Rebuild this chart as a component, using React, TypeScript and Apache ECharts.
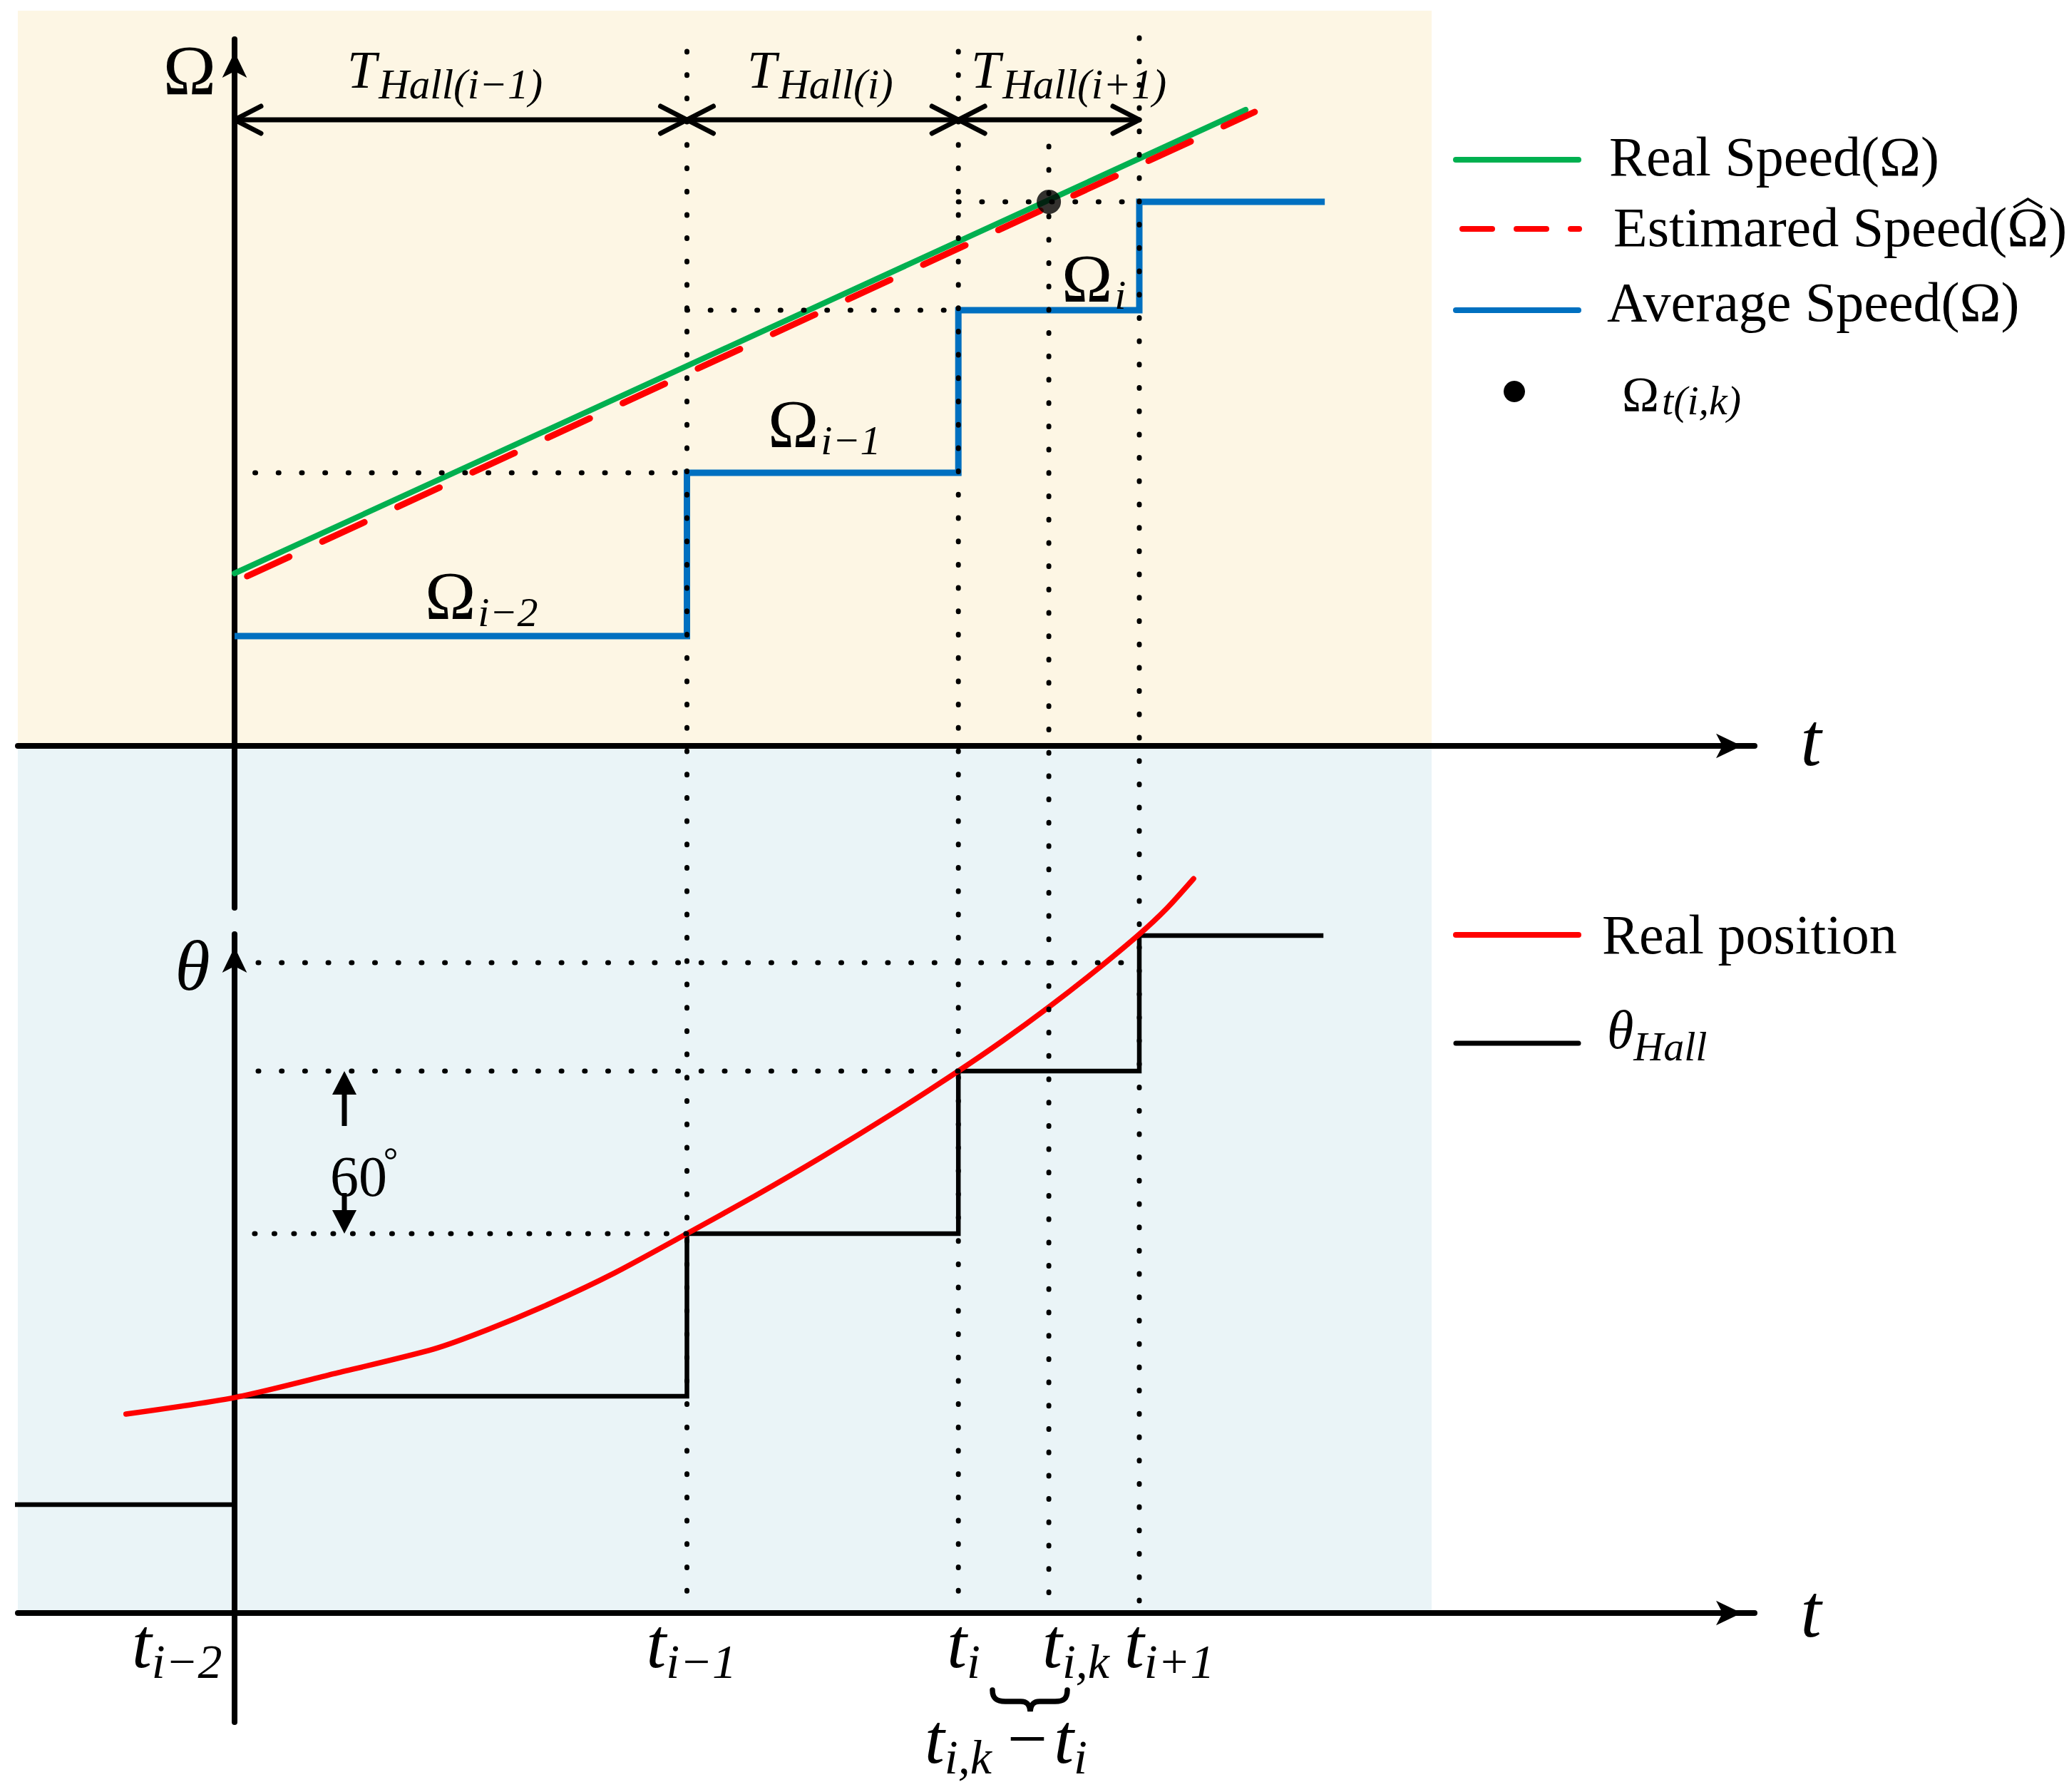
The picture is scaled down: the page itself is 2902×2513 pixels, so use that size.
import React, { useEffect, useRef } from 'react';
import * as echarts from 'echarts';

const FONT = '"Liberation Serif", "Times New Roman", Times, serif';

// ---------------- data (time in abstract units, speed / angle in chart units) ----------------
const tickT = [0, 10, 16, 18, 20]; // t_{i-2}, t_{i-1}, t_i, t_{i,k}, t_{i+1}
const tickSub = ['i−2', 'i−1', 'i', 'i,k', 'i+1'];
const hallT = [0, 10, 16, 20];
const hallSub = ['Hall(i−1)', 'Hall(i)', 'Hall(i+1)'];
const hallArrowLevel = 87.8;

const avgT = [0, 10, 16, 20, 24.1];
const avgSpeed = [15.4, 38.3, 61.1, 76.3, 76.3];
const avgSub = ['i−2', 'i−1', 'i'];

const realT = [0, 22.35];
const realSpeed = [24.2, 89.2];
const estT = [0.28, 22.55];
const estSpeed = [23.8, 88.9];
const sampleT = [18];
const sampleSpeed = [76.3];

const speedGuideLevel = [38.3, 61.1, 76.3];
const speedGuideFrom = [0.45, 10, 16];
const speedGuideTo = [10, 16, 20];

const hallAngleT = [-5, 0, 10, 16, 20, 24.07];
const hallAngle = [40, 80, 140, 200, 250, 250];
const posT = [-2.4, 0, 2.2, 4.4, 5.6, 7.0, 8.4, 10, 11.5, 13, 14.6, 16, 17, 18, 19, 20, 20.6, 21.2];
const posAngle = [73.4, 79.5, 88.3, 97.4, 104.6, 114.4, 125.5, 140, 153.9, 168.5, 184.9, 200, 211.4, 223.6, 236.6, 250.5, 259.9, 271];

const angleGuideLevel = [140, 200, 240];
const angleGuideFrom = [0.44, 0.52, 0.52];
const angleGuideTo = [10, 16, 20];

const guideT = [10, 16, 18, 20];

// ---------------- layout (pixels) ----------------
const W = 2902, H = 2513;
const AX0 = 329, TPX = 63.45, LEFT = 25, ARROW_END = 2461;
const TOP_AXIS_Y = 1046, TOP_GRID_TOP = 55, TOP_GRID_BOTTOM = 1273, WPX = 10;
const BOT_AXIS_Y = 2262, BOT_GRID_TOP = 1310, BOT_GRID_BOTTOM = 2415, DEGPX = 3.8;
const BG_RIGHT = 2008, BG_TOP = 15;
const guideTopPx = [72, 72, 205, 53];
const tickLabelDx = [-144, -57, -16, -9, -21];

const CREAM = '#FDF6E4';
const ICE = '#EAF4F7';
const GREEN = '#00B050';
const RED = '#FF0000';
const BLUE = '#0070C0';

const xMin = (LEFT - AX0) / TPX;
const xMax = (ARROW_END - AX0) / TPX;
const topMin = -(TOP_GRID_BOTTOM - TOP_AXIS_Y) / WPX;
const topMax = (TOP_AXIS_Y - TOP_GRID_TOP) / WPX;
const botMin = -(BOT_GRID_BOTTOM - BOT_AXIS_Y) / DEGPX;
const botMax = (BOT_AXIS_Y - BOT_GRID_TOP) / DEGPX;
const guideBottomVal = (TOP_AXIS_Y - BOT_AXIS_Y) / WPX;

const zip = (a: number[], b: number[]) => a.map((v, i) => [v, b[i]]);

const axisLine = {
  show: true,
  onZero: true,
  symbol: ['none', 'arrow'],
  symbolSize: [26, 36],
  symbolOffset: [0, -18],
  lineStyle: { color: '#000', width: 8 },
};
const hidden = { axisTick: { show: false }, axisLabel: { show: false }, splitLine: { show: false } };

export default function App() {
  const ref = useRef<HTMLDivElement>(null);
  useEffect(() => {
    const chart = echarts.init(ref.current!, null, { renderer: 'svg' });
    const dotted = (gap = 31.7) => ({ color: '#000', width: 7, type: [1, gap], cap: 'round' });

    const series: any[] = [
      {
        name: 'Real Speed', type: 'line', xAxisIndex: 0, yAxisIndex: 0, data: zip(realT, realSpeed),
        symbol: 'none', lineStyle: { color: GREEN, width: 8, cap: 'round' }, z: 3,
      },
      {
        name: 'Estimated Speed', type: 'line', xAxisIndex: 0, yAxisIndex: 0, data: zip(estT, estSpeed),
        symbol: 'none', lineStyle: { color: RED, width: 9, type: [65, 51], cap: 'round' }, z: 4,
      },
      {
        name: 'Average Speed', type: 'line', step: 'end', xAxisIndex: 0, yAxisIndex: 0, data: zip(avgT, avgSpeed),
        symbol: 'none', lineStyle: { color: BLUE, width: 9, join: 'miter' }, z: 3,
      },
      {
        name: 'Omega t(i,k)', type: 'scatter', xAxisIndex: 0, yAxisIndex: 0, data: zip(sampleT, sampleSpeed),
        symbol: 'circle', symbolSize: [34, 34], itemStyle: { color: '#000' }, z: 7,
      },
      {
        name: 'theta Hall', type: 'line', step: 'end', xAxisIndex: 1, yAxisIndex: 1, data: zip(hallAngleT, hallAngle),
        symbol: 'none', clip: false, lineStyle: { color: '#000', width: 6.5, join: 'miter' }, z: 3,
      },
      {
        name: 'Real position', type: 'line', smooth: 0.25, xAxisIndex: 1, yAxisIndex: 1, data: zip(posT, posAngle),
        symbol: 'none', clip: false, lineStyle: { color: RED, width: 7.5, cap: 'round' }, z: 4,
      },
      {
        name: 'T Hall', type: 'custom', xAxisIndex: 0, yAxisIndex: 0, clip: false, z: 6,
        data: hallT.slice(0, -1).map((t, i) => [t, hallT[i + 1], hallArrowLevel]),
        encode: { x: [0, 1], y: 2 },
        renderItem: (_p: any, api: any) => {
          const a = api.coord([api.value(0), api.value(2)]);
          const b = api.coord([api.value(1), api.value(2)]);
          const st = { stroke: '#000', lineWidth: 7, lineCap: 'round', lineJoin: 'round', fill: 'none' };
          return {
            type: 'group',
            children: [
              { type: 'line', shape: { x1: a[0], y1: a[1], x2: b[0], y2: b[1] }, style: st },
              { type: 'polyline', shape: { points: [[a[0] + 37, a[1] - 19], [a[0], a[1]], [a[0] + 37, a[1] + 19]] }, style: st },
              { type: 'polyline', shape: { points: [[b[0] - 37, b[1] - 19], [b[0], b[1]], [b[0] - 37, b[1] + 19]] }, style: st },
            ],
          };
        },
      },
    ];
    guideT.forEach((t, i) => {
      series.push({
        type: 'line', xAxisIndex: 0, yAxisIndex: 0, clip: false, symbol: 'none', z: 5,
        data: [[t, (TOP_AXIS_Y - guideTopPx[i]) / WPX], [t, guideBottomVal]],
        lineStyle: dotted(),
      });
    });
    speedGuideLevel.forEach((lv, i) => {
      series.push({
        type: 'line', xAxisIndex: 0, yAxisIndex: 0, clip: false, symbol: 'none', z: 5,
        data: [[speedGuideFrom[i], lv], [speedGuideTo[i], lv]], lineStyle: dotted(),
      });
    });
    angleGuideLevel.forEach((lv, i) => {
      series.push({
        type: 'line', xAxisIndex: 1, yAxisIndex: 1, clip: false, symbol: 'none', z: 5,
        data: [[angleGuideFrom[i], lv], [angleGuideTo[i], lv]], lineStyle: dotted(i === 0 ? 26.5 : 31.7),
      });
    });

    chart.setOption({
      animation: false,
      backgroundColor: '#ffffff',
      grid: [
        { left: LEFT, right: W - ARROW_END, top: TOP_GRID_TOP, bottom: H - TOP_GRID_BOTTOM, containLabel: false },
        { left: LEFT, right: W - ARROW_END, top: BOT_GRID_TOP, bottom: H - BOT_GRID_BOTTOM, containLabel: false },
      ],
      xAxis: [
        { type: 'value', gridIndex: 0, min: xMin, max: xMax, axisLine, ...hidden },
        { type: 'value', gridIndex: 1, min: xMin, max: xMax, axisLine, ...hidden },
      ],
      yAxis: [
        { type: 'value', gridIndex: 0, min: topMin, max: topMax, axisLine, ...hidden },
        { type: 'value', gridIndex: 1, min: botMin, max: botMax, axisLine, ...hidden },
      ],
      series,
    });

    // ---------------- annotations ----------------
    const canvas = document.createElement('canvas');
    const ctx = canvas.getContext('2d')!;
    const measure = (s: string, size: number, italic: boolean) => {
      ctx.font = `${italic ? 'italic ' : ''}${size}px ${FONT}`;
      return ctx.measureText(s).width;
    };
    const els: any[] = [];
    type P = [string, number, boolean?, number?, number?];
    const mt = (parts: P[], x: number, base: number, align: 'left' | 'center' | 'right' = 'left') => {
      const ws = parts.map((p) => measure(p[0], p[1], !!p[2]) + (p[3] || 0));
      const total = ws.reduce((a, b) => a + b, 0);
      let cx = align === 'left' ? x : align === 'center' ? x - total / 2 : x - total;
      const pos: number[][] = [];
      parts.forEach((p, i) => {
        const [s, size, it, dx = 0, dy = 0] = p;
        cx += dx;
        pos.push([cx, ws[i] - dx]);
        els.push({
          type: 'text', x: cx, y: base + dy - 0.3375 * size, z: 50, silent: true,
          style: {
            text: s, fontSize: size, fontFamily: FONT, fontStyle: it ? 'italic' : 'normal',
            fill: '#000', align: 'left', verticalAlign: 'middle',
          },
        });
        cx += ws[i] - dx;
      });
      return pos;
    };
    const pxX = (t: number) => chart.convertToPixel({ xAxisIndex: 1 }, t) as number;
    const pyB = (v: number) => chart.convertToPixel({ yAxisIndex: 1 }, v) as number;

    // backgrounds
    els.push({ type: 'rect', z: -10, silent: true, shape: { x: LEFT, y: BG_TOP, width: BG_RIGHT - LEFT, height: TOP_AXIS_Y - BG_TOP }, style: { fill: CREAM } });
    els.push({ type: 'rect', z: -10, silent: true, shape: { x: LEFT, y: TOP_AXIS_Y, width: BG_RIGHT - LEFT, height: BOT_AXIS_Y - TOP_AXIS_Y }, style: { fill: ICE } });

    // axis names
    mt([['Ω', 100]], 266, 132, 'center');
    mt([['θ', 100, true]], 270, 1388, 'center');
    mt([['t', 105, true]], 2540, 1073, 'center');
    mt([['t', 105, true]], 2540, 2295, 'center');

    // T_Hall labels
    const hallLabelX = [487, 1048, 1362];
    hallSub.forEach((s, i) => mt([['T', 74, true], [s, 59, true, 3, 15]], hallLabelX[i], 123));

    // Omega step labels
    const omegaLabelPos = [[596, 868], [1077, 627], [1489, 423]];
    avgSub.forEach((s, i) => mt([['Ω', 96], [s, 58, true, 3, 10]], omegaLabelPos[i][0], omegaLabelPos[i][1]));

    // time tick labels
    tickT.forEach((t, i) => {
      mt([['t', 100, true], [tickSub[i], 68, true, 0, 15]], pxX(t) + tickLabelDx[i], 2338);
    });
    // brace and difference label
    echarts.graphic.registerShape(
      'brace',
      echarts.graphic.extendPath('M0,0 C0,12 6,16 18,16 L40,16 C48,16 52,20 53,30 C54,20 58,16 66,16 L88,16 C100,16 105,12 105,0', {})
    );
    els.push({ type: 'brace', x: 1392, y: 2370, z: 50, silent: true, style: { stroke: '#000', fill: 'none', lineWidth: 7.5, lineCap: 'round' } });
    mt([['t', 100, true], ['i,k', 68, true, 0, 15], ['−', 100, false, 22, 0], ['t', 100, true, 9], ['i', 68, true, 0, 15]], 1297, 2472);

    // 60 degree arrows
    const ax = 483;
    const upTip = pyB(200);
    const dnTip = pyB(140);
    els.push({ type: 'polygon', z: 50, silent: true, shape: { points: [[ax, upTip], [ax - 17, upTip + 33], [ax + 17, upTip + 33]] }, style: { fill: '#000' } });
    els.push({ type: 'line', z: 50, silent: true, shape: { x1: ax, y1: upTip + 30, x2: ax, y2: 1579 }, style: { stroke: '#000', lineWidth: 7 } });
    els.push({ type: 'polygon', z: 50, silent: true, shape: { points: [[ax, dnTip], [ax - 17, dnTip - 33], [ax + 17, dnTip - 33]] }, style: { fill: '#000' } });
    els.push({ type: 'line', z: 50, silent: true, shape: { x1: ax, y1: 1673, x2: ax, y2: dnTip - 30 }, style: { stroke: '#000', lineWidth: 7 } });
    mt([['60', 80]], 463, 1677);
    els.push({ type: 'circle', z: 50, silent: true, shape: { cx: 548, cy: 1618, r: 6.5 }, style: { fill: 'none', stroke: '#000', lineWidth: 2.5 } });

    // legend (top)
    const lx1 = 2042, lx2 = 2214;
    const legLine = (y: number, color: string, width: number, dash?: number[]) => {
      els.push({
        type: 'line', z: 50, silent: true,
        shape: { x1: dash ? lx1 + 9 : lx1, y1: y, x2: dash ? lx2 + 1 : lx2, y2: y },
        style: { stroke: color, lineWidth: width, lineCap: 'round', lineDash: dash },
      });
    };
    legLine(224, GREEN, 8);
    mt([['Real Speed(Ω)', 78]], 2257, 246);
    legLine(321, RED, 8, [42, 34]);
    const est = mt([['Estimared Speed(', 78], ['Ω', 78], [')', 78]], 2263, 345);
    const hc = est[1][0] + est[1][1] / 2;
    els.push({
      type: 'polyline', z: 50, silent: true,
      shape: { points: [[hc - 20, 291], [hc, 279], [hc + 20, 291]] },
      style: { stroke: '#000', lineWidth: 3.5, fill: 'none', lineJoin: 'miter' },
    });
    legLine(435, BLUE, 8);
    mt([['Average Speed(Ω)', 78]], 2254, 450);
    els.push({ type: 'circle', z: 50, silent: true, shape: { cx: 2124, cy: 549, r: 15 }, style: { fill: '#000' } });
    mt([['Ω', 70], ['t(i,k)', 58, true, 4, 4]], 2275, 577);

    // legend (bottom)
    legLine(1311, RED, 8);
    mt([['Real position', 78]], 2247, 1337);
    legLine(1463, '#000', 7);
    mt([['θ', 76, true], ['Hall', 58, true, 0, 17]], 2254, 1470);

    chart.setOption({ graphic: { elements: els } });

    return () => chart.dispose();
  }, []);
  return <div ref={ref} style={{ position: 'absolute', left: 0, top: 0, width: W, height: H }} />;
}
